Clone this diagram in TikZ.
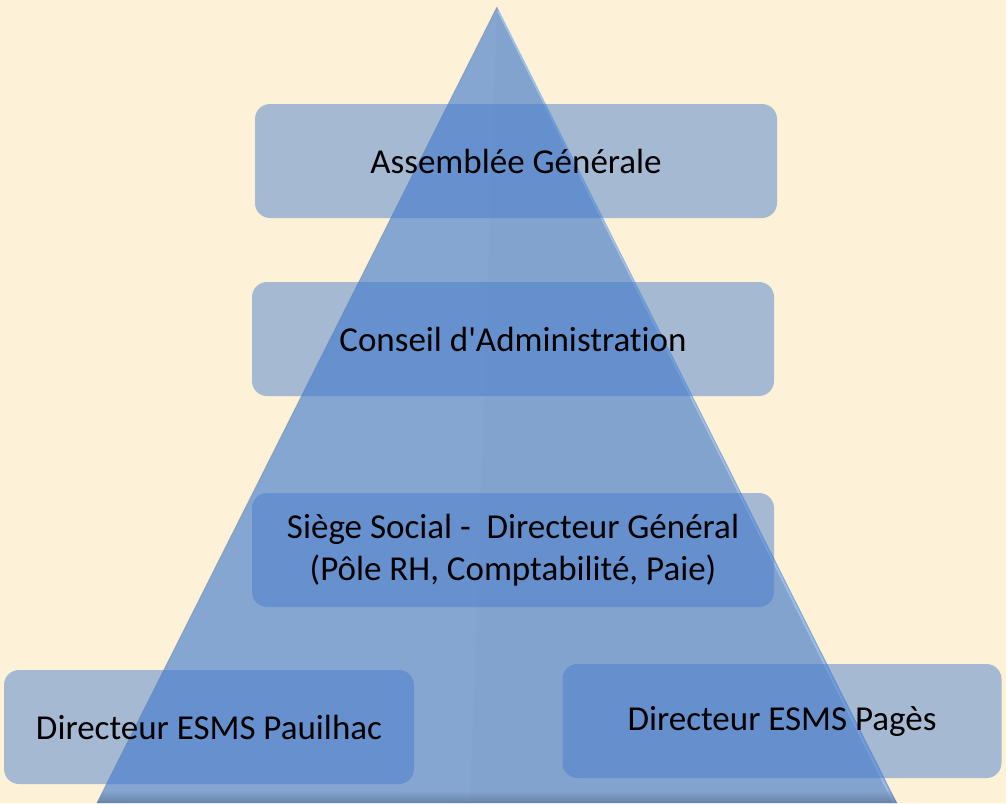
\documentclass[tikz,border=0pt]{standalone}
\usepackage{fontspec}
\setmainfont{Carlito}[Ligatures={TeXOff,NoCommon}]
\usetikzlibrary{calc}
\definecolor{parch}{RGB}{253,241,215}
\definecolor{tri}{RGB}{130,163,205}
\definecolor{trilight}{RGB}{150,182,222}
\definecolor{tririm}{RGB}{170,200,240}
\definecolor{boxblue}{RGB}{70,124,205}
\tikzset{
  orgbox/.style={fill=boxblue, fill opacity=0.48, text opacity=1, rounded corners=15pt,
    inner sep=0pt, font=\fontsize{35}{42}\selectfont, align=center, text=black},
}
\begin{document}
\begin{tikzpicture}[x=1pt,y=-1pt]
\fill[parch] (0,0) rectangle (1006,803);
\useasboundingbox (0,0) rectangle (1006,803);
% triangle
\coordinate (apex) at (497,7);
\coordinate (bl) at (97,803);
\coordinate (br) at (897,803);
\coordinate (bm) at (470,803);
\fill[tri] (apex) -- (bl) -- (br) -- cycle;
\fill[trilight, opacity=0.18] (apex) -- (bl) -- (bm) -- cycle;
\draw[tririm, line width=2pt, opacity=0.7] ($(apex)+(1,4)$) -- ($(br)+(-3,0)$);
\draw[tri!80!black, line width=1pt, opacity=0.4] (apex) -- (bl);
\shade[top color=tri, bottom color=tri!60!black, opacity=0.5] ($(bl)!0.015!(apex)$) -- ($(br)!0.015!(apex)$) -- (br) -- (bl) -- cycle;
% boxes
\node[orgbox, minimum width=522pt, minimum height=114pt] (ag) at (516,161) {Assemblée Générale};
\node[orgbox, minimum width=522pt, minimum height=114pt] (ca) at (513,339) {Conseil d'Administration};
\node[orgbox, minimum width=522pt, minimum height=114pt] (ss) at (513,550) {Siège Social -~ Directeur Général\\(Pôle RH, Comptabilité, Paie)};
\node[orgbox, minimum width=410pt, minimum height=114pt] (pau) at (209,727) {Directeur ESMS Pauilhac};
\node[orgbox, minimum width=439pt, minimum height=114pt] (pag) at (782,721) {Directeur ESMS Pagès};
\end{tikzpicture}
\end{document}
